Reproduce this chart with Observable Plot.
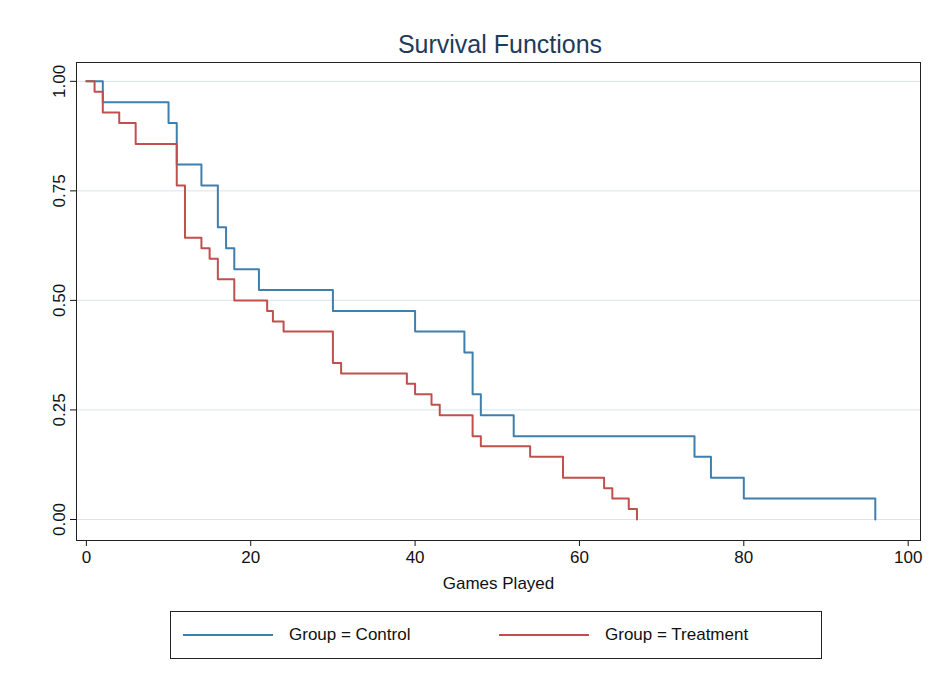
<!DOCTYPE html>
<html><head><meta charset="utf-8">
<script src="https://cdn.jsdelivr.net/npm/d3@7"></script>
<script src="https://cdn.jsdelivr.net/npm/@observablehq/plot@0.6"></script>
<style>
body{margin:0;background:#fff;font-family:"Liberation Sans",Arial,sans-serif;}
#wrap{position:relative;width:950px;height:691px;}
#title{position:absolute;top:30px;left:0;width:1000px;text-align:center;font-size:25px;color:#1f3b5a;}
#legend{position:absolute;left:170px;top:611px;width:652px;height:48px;border:1.5px solid #222;box-sizing:border-box;font-size:17px;color:#111;}
.li{position:absolute;top:13px;display:flex;align-items:center;}
.li span.sw{display:inline-block;width:90px;height:2px;margin-right:16px;}
</style></head>
<body><div id="wrap"><div id="title">Survival Functions</div><div id="chart"></div>
<div id="legend">
<div class="li" style="left:12px"><span class="sw" style="background:#3f7fae"></span>Group = Control</div>
<div class="li" style="left:328px"><span class="sw" style="background:#c0504d"></span>Group = Treatment</div>
</div></div>
<script>
const controlTime = [0,2,10,11,14,16,17,18,21,30,40,46,47,48,52,74,76,80,96];
const controlSurv = [1.0,0.952,0.905,0.810,0.762,0.667,0.619,0.571,0.524,0.476,0.429,0.381,0.286,0.238,0.190,0.143,0.095,0.048,0.0];
const treatTime = [0,1,2,4,6,11,12,14,15,16,18,22,22.7,24,30,31,39,40,42,43,47,48,54,58,63,64,66,67];
const treatSurv = [1.0,0.976,0.929,0.905,0.857,0.762,0.643,0.619,0.595,0.548,0.5,0.476,0.452,0.429,0.357,0.333,0.310,0.286,0.262,0.238,0.190,0.167,0.143,0.095,0.071,0.048,0.024,0.0];
const xTicks = [0,20,40,60,80,100];
const yTicks = [0,0.25,0.5,0.75,1.0];

const data = [
  ...controlTime.map((t,i)=>({t,s:controlSurv[i],g:"Control"})),
  ...treatTime.map((t,i)=>({t,s:treatSurv[i],g:"Treatment"}))
];

const chart = Plot.plot({
  width:950, height:600,
  marginLeft:76, marginRight:30, marginTop:62, marginBottom:60,
  style:{fontFamily:"Liberation Sans, Arial, sans-serif", fontSize:"17px", color:"#111", background:"transparent"},
  x:{domain:[-1.2,101.5], ticks:xTicks, tickSize:6, tickPadding:4, label:"Games Played", labelAnchor:"center", labelOffset:48, labelArrow:"none"},
  y:{domain:[-0.048,1.043], ticks:yTicks, tickSize:6, label:null, tickFormat:d=>d.toFixed(2), tickRotate:-90, tickPadding:6},
  color:{domain:["Control","Treatment"], range:["#3f7fae","#c0504d"]},
  marks:[
    Plot.gridY(yTicks,{stroke:"#d8e4ec", strokeOpacity:1, strokeWidth:1}),
    Plot.frame({stroke:"#222"}),
    Plot.line(data,{x:"t", y:"s", z:"g", stroke:"g", curve:"step-after", strokeWidth:2})
  ]
});
document.getElementById("chart").appendChild(chart);
</script></body></html>
